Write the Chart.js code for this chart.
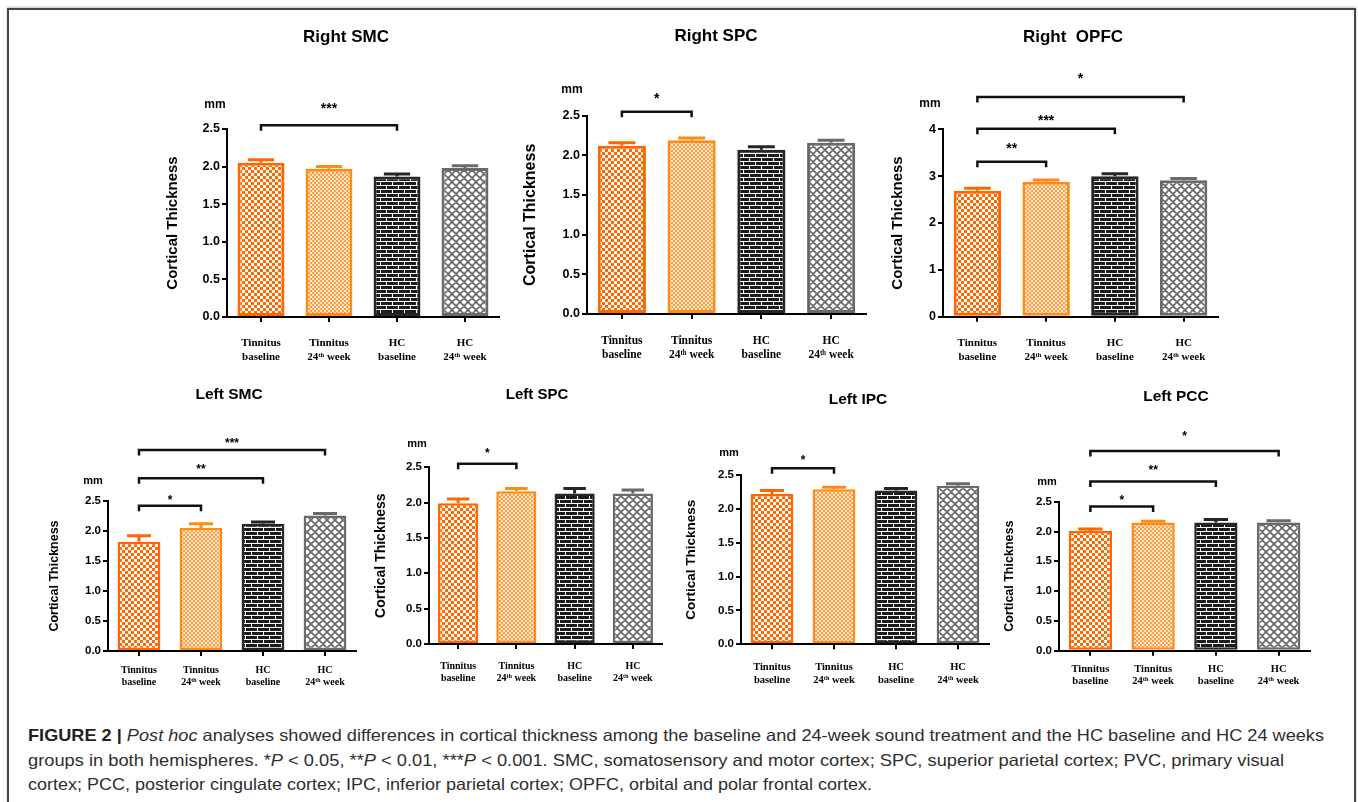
<!DOCTYPE html>
<html><head><meta charset="utf-8">
<script src="https://cdn.jsdelivr.net/npm/chart.js@4.4.1/dist/chart.umd.min.js"></script>
<style>
html,body{margin:0;padding:0;background:#fff;}
body{width:1358px;height:802px;position:relative;overflow:hidden;font-family:"Liberation Sans",Arial,sans-serif;}
#frame{position:absolute;left:7px;top:8px;width:1349px;height:900px;border:2px solid #454545;box-sizing:border-box;box-shadow:0 -1px 2px rgba(0,0,0,0.25);}
canvas{position:absolute;}
.cap{position:absolute;left:28px;white-space:nowrap;font-size:16.5px;color:#2e2e2e;transform-origin:0 50%;line-height:20px;}
.cap b{color:#222;}
</style></head><body>
<div id="frame"></div>
<div class="cap" data-w="1296" style="top:725px"><b>FIGURE 2 |</b> <i>Post hoc</i> analyses showed differences in cortical thickness among the baseline and 24-week sound treatment and the HC baseline and HC 24 weeks</div>
<div class="cap" data-w="1256" style="top:750px">groups in both hemispheres. *<i>P</i> &lt; 0.05, **<i>P</i> &lt; 0.01, ***<i>P</i> &lt; 0.001. SMC, somatosensory and motor cortex; SPC, superior parietal cortex; PVC, primary visual</div>
<div class="cap" data-w="844" style="top:774px">cortex; PCC, posterior cingulate cortex; IPC, inferior parietal cortex; OPFC, orbital and polar frontal cortex.</div>
<script>
// ---------------- DATA ----------------
const categories = [["Tinnitus","baseline"],["Tinnitus","24ᵗʰ week"],["HC","baseline"],["HC","24ᵗʰ week"]];
const titles = ["Right SMC","Right SPC","Right  OPFC","Left SMC","Left SPC","Left IPC","Left PCC"];
const yAxisTitle = "Cortical Thickness";
const unitLabel = "mm";
const yMax = [2.5, 2.5, 4, 2.5, 2.5, 2.5, 2.5];
const yStep = [0.5, 0.5, 1, 0.5, 0.5, 0.5, 0.5];

const rightSMC = [2.05, 1.97, 1.87, 1.98];
const rightSMCErr = [0.04, 0.03, 0.03, 0.03];
const rightSPC = [2.12, 2.19, 2.07, 2.16];
const rightSPCErr = [0.04, 0.03, 0.04, 0.03];
const rightOPFC = [2.69, 2.88, 3.00, 2.91];
const rightOPFCErr = [0.05, 0.04, 0.05, 0.04];
const leftSMC = [1.82, 2.05, 2.12, 2.26];
const leftSMCErr = [0.10, 0.07, 0.03, 0.03];
const leftSPC = [1.99, 2.16, 2.13, 2.13];
const leftSPCErr = [0.06, 0.04, 0.07, 0.05];
const leftIPC = [2.22, 2.29, 2.27, 2.34];
const leftIPCErr = [0.05, 0.03, 0.03, 0.03];
const leftPCC = [2.01, 2.15, 2.15, 2.15];
const leftPCCErr = [0.03, 0.02, 0.05, 0.03];

// significance brackets: [fromCategory, toCategory, bracketValue, labelValue, label]
const rightSMCSig = [[0, 2, 2.55, 2.82, "***"]];
const rightSPCSig = [[0, 1, 2.55, 2.76, "*"]];
const rightOPFCSig = [[0, 1, 3.31, 3.67, "**"], [0, 2, 4.01, 4.27, "***"], [0, 3, 4.69, 5.16, "*"]];
const leftSMCSig = [[0, 1, 2.42, 2.57, "*"], [0, 2, 2.88, 3.08, "**"], [0, 3, 3.35, 3.52, "***"]];
const leftSPCSig = [[0, 1, 2.55, 2.74, "*"]];
const leftIPCSig = [[0, 1, 2.60, 2.77, "*"]];
const leftPCCSig = [[0, 1, 2.42, 2.58, "*"], [0, 2, 2.84, 3.08, "**"], [0, 3, 3.35, 3.65, "*"]];

// ---------------- STYLE / LAYOUT ----------------
const layouts = [
 {L:227,R:499,T:129,B:317,yt:173,tx:346,ty:37,mx:215,my:105,fT:17,fY:15,fK:12.5,fC:11,lhC:14,cpad:14,fS:14,bw:3},
 {L:587,R:866,T:115.7,B:314,yt:531,tx:716,ty:36,mx:572,my:90,fT:17,fY:16,fK:12.5,fC:11.5,lhC:14,cpad:15.5,fS:14,bw:3},
 {L:943,R:1218,T:129.3,B:316.7,yt:898,tx:1073,ty:37,mx:930,my:104,fT:17,fY:15,fK:12.5,fC:11,lhC:14,cpad:14.5,fS:14,bw:3},
 {L:108,R:356,T:501,B:651,yt:54,tx:229,ty:395,mx:93,my:481,fT:15.5,fY:12.5,fK:11.5,fC:10,lhC:12,cpad:8,fS:12,bw:2.5},
 {L:429,R:662,T:467.3,B:644,yt:381,tx:537,ty:395,mx:417,my:444,fT:15,fY:14,fK:11.5,fC:10,lhC:12,cpad:11.5,fS:12,bw:2.5},
 {L:741,R:989,T:475,B:644.3,yt:691,tx:858,ty:400,mx:729,my:453,fT:15.5,fY:13.5,fK:11.5,fC:10.5,lhC:13,cpad:11,fS:12,bw:2.5},
 {L:1059,R:1310,T:501.7,B:650.7,yt:1009,tx:1176,ty:397,mx:1047,my:482,fT:15.5,fY:12.5,fK:11.5,fC:10.5,lhC:12,cpad:8,fS:12,bw:2.5}
];
const borders = ['#ff6600', '#ff8a14', '#262626', '#6a6a6a'];
const SANS = '"Liberation Sans", Arial, sans-serif';
const SERIF = '"Liberation Serif", "DejaVu Serif", serif';

function makePattern(kind) {
  const c = document.createElement('canvas');
  let x;
  if (kind === 0) {
    c.width = c.height = 6; x = c.getContext('2d');
    x.fillStyle = '#ff6a00'; x.fillRect(0,0,6,6);
    x.fillStyle = '#ffffff'; x.fillRect(0,0,3,3); x.fillRect(3,3,3,3);
  } else if (kind === 1) {
    c.width = c.height = 4; x = c.getContext('2d');
    x.fillStyle = '#ff9d45'; x.fillRect(0,0,4,4);
    x.fillStyle = '#ffe6cc'; x.fillRect(0,0,2,2); x.fillRect(2,2,2,2);
  } else if (kind === 2) {
    c.width = 12; c.height = 8; x = c.getContext('2d');
    x.fillStyle = '#1c1c1c'; x.fillRect(0,0,12,8);
    x.fillStyle = '#ffffff';
    x.fillRect(0,3,12,1); x.fillRect(0,7,12,1);
    x.fillRect(0,0,1,3); x.fillRect(6,4,1,3);
  } else {
    c.width = c.height = 8; x = c.getContext('2d');
    x.fillStyle = '#ffffff'; x.fillRect(0,0,8,8);
    x.strokeStyle = '#6a6a6a'; x.lineWidth = 1.7;
    x.beginPath();
    x.moveTo(-2,-2); x.lineTo(10,10);
    x.moveTo(10,-2); x.lineTo(-2,10);
    x.moveTo(-6,2); x.lineTo(2,10); x.moveTo(6,-2); x.lineTo(14,6);
    x.moveTo(2,-2); x.lineTo(-6,6); x.moveTo(14,2); x.lineTo(6,10);
    x.stroke();
  }
  return x.createPattern(c, 'repeat');
}
const fills = [0,1,2,3].map(makePattern);

const panels = [
  [rightSMC, rightSMCErr, rightSMCSig],
  [rightSPC, rightSPCErr, rightSPCSig],
  [rightOPFC, rightOPFCErr, rightOPFCSig],
  [leftSMC, leftSMCErr, leftSMCSig],
  [leftSPC, leftSPCErr, leftSPCSig],
  [leftIPC, leftIPCErr, leftIPCSig],
  [leftPCC, leftPCCErr, leftPCCSig]
];

function build(i) {
  const [values, errs, sig] = panels[i];
  const Ly = layouts[i];
  const top0 = i < 3 ? 14 : 376;
  const cl = Math.round(Ly.yt - 0.6 * Ly.fY);
  const W = Math.ceil(Ly.R + 8 - cl);
  const H = Math.ceil(Ly.B + 54 - top0);
  const canvas = document.createElement('canvas');
  canvas.width = W; canvas.height = H;
  canvas.style.left = cl + 'px'; canvas.style.top = top0 + 'px';
  canvas.style.width = W + 'px'; canvas.style.height = H + 'px';
  document.body.appendChild(canvas);
  const Wy = Ly.L - cl, padTop = Ly.T - top0, Hx = H - (Ly.B - top0), padRight = W - (Ly.R - cl);

  const annot = {
    id: 'annot' + i,
    afterDatasetsDraw(chart) {
      const ctx = chart.ctx, ys = chart.scales.y;
      const meta = chart.getDatasetMeta(0);
      ctx.save();
      meta.data.forEach((bar, k) => {
        const yTop = ys.getPixelForValue(values[k]);
        const yErr = ys.getPixelForValue(values[k] + errs[k]);
        const half = bar.width * 0.28;
        ctx.strokeStyle = borders[k]; ctx.lineWidth = 3; ctx.lineCap = 'butt';
        ctx.beginPath();
        ctx.moveTo(bar.x, yTop); ctx.lineTo(bar.x, yErr);
        ctx.moveTo(bar.x - half, yErr); ctx.lineTo(bar.x + half, yErr);
        ctx.stroke();
      });
      ctx.restore();
    },
    afterDraw(chart) {
      const ctx = chart.ctx, xs = chart.scales.x, ys = chart.scales.y;
      ctx.save();
      ctx.fillStyle = '#000';
      ctx.font = 'bold ' + Ly.fT + 'px ' + SANS;
      ctx.textAlign = 'center'; ctx.textBaseline = 'middle';
      ctx.fillText(titles[i], Ly.tx - cl, Ly.ty - top0);
      ctx.font = 'bold ' + (Ly.fK - 0.5) + 'px ' + SANS;
      ctx.fillText(unitLabel, Ly.mx - cl, Ly.my - top0);
      sig.forEach(([a, b, v, lv, lab]) => {
        const x1 = xs.getPixelForValue(a), x2 = xs.getPixelForValue(b);
        const y = ys.getPixelForValue(v);
        ctx.strokeStyle = '#111'; ctx.lineWidth = 2.5;
        ctx.beginPath();
        ctx.moveTo(x1, y + 5.5); ctx.lineTo(x1, y); ctx.lineTo(x2, y); ctx.lineTo(x2, y + 5.5);
        ctx.stroke();
        ctx.font = 'bold ' + Ly.fS + 'px ' + SANS;
        ctx.textBaseline = 'alphabetic';
        ctx.fillText(lab, (x1 + x2) / 2, ys.getPixelForValue(lv) + 0.575 * Ly.fS);
        ctx.textBaseline = 'middle';
      });
      ctx.restore();
    }
  };

  new Chart(canvas, {
    type: 'bar',
    data: { labels: categories, datasets: [{ data: values, backgroundColor: fills, borderColor: borders,
      borderWidth: Ly.bw, borderSkipped: false, barPercentage: 1, categoryPercentage: 0.69 }] },
    options: {
      responsive: false, animation: false, devicePixelRatio: 1,
      layout: { padding: { top: padTop, right: padRight, left: 0, bottom: 0 } },
      plugins: { legend: { display: false }, tooltip: { enabled: false }, title: { display: false } },
      scales: {
        x: {
          z: 1,
          grid: { display: true, drawOnChartArea: false, drawTicks: true, tickLength: 5, offset: false, color: '#000', lineWidth: 2 },
          border: { display: true, color: '#000', width: 2 },
          ticks: { color: '#000', padding: Ly.cpad, maxRotation: 0, minRotation: 0, autoSkip: false,
            font: { family: SERIF, weight: 'bold', size: Ly.fC, lineHeight: Ly.lhC / Ly.fC } },
          afterFit: s => { s.height = Hx; }
        },
        y: {
          min: 0, max: yMax[i],
          grid: { display: true, drawOnChartArea: false, drawTicks: true, tickLength: 5, color: '#000', lineWidth: 2 },
          border: { display: true, color: '#000', width: 2 },
          ticks: { stepSize: yStep[i], color: '#000', padding: 2,
            font: { family: SANS, weight: 'bold', size: Ly.fK },
            callback: v => yStep[i] < 1 ? Number(v).toFixed(1) : String(v) },
          title: { display: true, text: yAxisTitle, color: '#000', padding: 0,
            font: { family: SANS, weight: 'bold', size: Ly.fY } },
          afterFit: s => { s.width = Wy; }
        }
      }
    },
    plugins: [annot]
  });
}
for (let i = 0; i < panels.length; i++) build(i);

document.querySelectorAll('.cap').forEach(el => {
  const target = +el.dataset.w;
  const w = el.getBoundingClientRect().width;
  el.style.transform = 'scaleX(' + (target / w) + ')';
});
</script>
</body></html>
